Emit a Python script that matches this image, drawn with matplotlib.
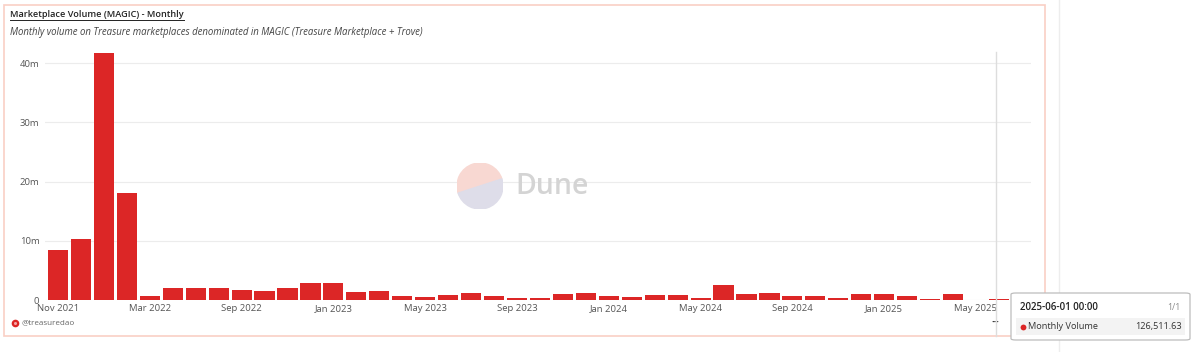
import matplotlib
matplotlib.use("Agg")
import matplotlib.pyplot as plt
from matplotlib.patches import Rectangle, FancyBboxPatch, Wedge
import numpy as np

plt.rcParams['font.family'] = ['Open Sans', 'DejaVu Sans']

months = ["Nov 2021", "Dec 2021", "Jan 2022", "Feb 2022", "Mar 2022", "Jun 2022", "Jul 2022", "Aug 2022",
          "Sep 2022", "Oct 2022", "Nov 2022", "Dec 2022", "Jan 2023", "Feb 2023", "Mar 2023", "Apr 2023",
          "May 2023", "Jun 2023", "Jul 2023", "Aug 2023", "Sep 2023", "Oct 2023", "Nov 2023", "Dec 2023",
          "Jan 2024", "Feb 2024", "Mar 2024", "Apr 2024", "May 2024", "Jun 2024", "Jul 2024", "Aug 2024",
          "Sep 2024", "Oct 2024", "Nov 2024", "Dec 2024", "Jan 2025", "Feb 2025", "Mar 2025", "Apr 2025",
          "May 2025", "Jun 2025"]
volume_m = [8.45, 10.3, 41.8, 18.1, 0.62, 2.0, 1.95, 2.1,
            1.7, 1.5, 2.05, 2.85, 2.9, 1.4, 1.45, 0.7,
            0.45, 0.9, 1.1, 0.6, 0.3, 0.4, 1.0, 1.1,
            0.6, 0.55, 0.8, 0.92, 0.4, 2.6, 0.95, 1.1,
            0.65, 0.65, 0.4, 1.0, 1.05, 0.6, 0.25, 0.95,
            0.03, 0.1265]
yticks_m = [0, 10, 20, 30, 40]
ytick_labels = ["0", "10m", "20m", "30m", "40m"]
tooltip_date = "2025-06-01 00:00"
tooltip_series = "Monthly Volume"
tooltip_value = "126,511.63"

W, H = 1200, 352
fig = plt.figure(figsize=(W / 100, H / 100), dpi=100)
fig.patch.set_facecolor("white")

def fx(px):
    return px / W

def fy(py):
    return 1 - py / H

def dot(px, py, size, color, z=12):
    fig.add_artist(plt.Line2D([fx(px)], [fy(py)], transform=fig.transFigure, marker="o", markersize=size,
                              color=color, markeredgewidth=0, linestyle="none", zorder=z))

# card border
fig.patches.append(Rectangle((fx(3.5), fy(336)), fx(1045) - fx(3.5), fy(5) - fy(336),
                             transform=fig.transFigure, fill=False, edgecolor="#f9cfc5", lw=1.2))
# page divider
fig.add_artist(plt.Line2D([fx(1059), fx(1059)], [0, 1], transform=fig.transFigure, color="#ededed", lw=1))

# axes
ax_left, ax_right, ax_top, ax_bottom = 45, 1031, 52, 300
ax = fig.add_axes([fx(ax_left), fy(ax_bottom), fx(ax_right) - fx(ax_left), fy(ax_top) - fy(ax_bottom)])
x = np.arange(len(months))
spacing = 22.95
ax.bar(x, volume_m, width=0.88, color="#dc2626", zorder=3)
ax.set_xlim(-(58 - ax_left) / spacing, (ax_right - 58) / spacing)
ax.set_ylim(0, (ax_bottom - ax_top) / 5.92)
ax.set_yticks(yticks_m)
ax.set_yticklabels(ytick_labels)
ax.set_xticks(x[::4])
ax.set_xticklabels(months[::4])
ax.tick_params(axis="both", length=0, labelsize=6.8, colors="#555555")
ax.tick_params(axis="y", pad=4)
ax.tick_params(axis="x", pad=3)
for s in ax.spines.values():
    s.set_visible(False)
ax.grid(axis="y", color="#ececec", lw=0.8, zorder=0)
ax.set_facecolor("none")
ax.axhline(0, color="#e8e8e8", lw=0.6, zorder=1)

# hover line
fig.add_artist(plt.Line2D([fx(996), fx(996)], [fy(52), fy(336)], transform=fig.transFigure,
                          color="#dddddd", lw=1, zorder=5))

# watermark
cx, cy, r = 480, 186, 23
wax = fig.add_axes([fx(cx - r), fy(cy + r), fx(2 * r), fy(cy - r) - fy(cy + r)])
wax.set_xlim(-1, 1); wax.set_ylim(-1, 1); wax.axis("off")
wax.add_patch(Wedge((0, 0), 1, 18, 198, color="#f8d8d2"))
wax.add_patch(Wedge((0, 0), 1, 198, 378, color="#dedde9"))
fig.text(fx(515), fy(186), "Dune", fontsize=20.5, color="#d4d4d4", va="center", ha="left", fontweight="semibold")

# titles
t = fig.text(fx(10), fy(17), "Marketplace Volume (MAGIC) - Monthly", fontsize=6.6, color="#222222",
             fontweight="semibold", va="baseline", ha="left")
fig.text(fx(10), fy(34.5), "Monthly volume on Treasure marketplaces denominated in MAGIC (Treasure Marketplace + Trove)",
         fontsize=6.95, color="#444444", style="italic", va="baseline", ha="left")
fig.canvas.draw()
bb = t.get_window_extent()
fig.add_artist(plt.Line2D([bb.x0 / W, bb.x1 / W], [fy(19.5), fy(19.5)], transform=fig.transFigure,
                          color="#222222", lw=0.7))

# footer
dot(15, 322.5, 5.5, "#dc2626")
dot(15, 322.5, 2.2, "#f5a5a5", z=13)
fig.text(fx(22), fy(322.5), "@treasuredao", fontsize=5.8, color="#666666", va="center", ha="left")
fig.text(fx(991), fy(322.5), "···", fontsize=7, color="#333333", va="center", ha="left", fontweight="bold")

# tooltip
tip = FancyBboxPatch((fx(1011), fy(340)), fx(1190) - fx(1011), fy(293) - fy(340),
                     boxstyle="round,pad=0,rounding_size=0.004", transform=fig.transFigure,
                     facecolor="white", edgecolor="#bdbdbd", lw=0.9, zorder=10)
fig.patches.append(tip)
fig.patches.append(Rectangle((fx(1016), fy(335)), fx(1185) - fx(1016), fy(318) - fy(335),
                             transform=fig.transFigure, facecolor="#f3f3f3", edgecolor="none", zorder=11))
fig.text(fx(1020), fy(307), tooltip_date, fontsize=7.0, color="#222222", va="center", ha="left", zorder=12,
         fontweight="semibold")
fig.text(fx(1180), fy(307), "1/1", fontsize=6.3, color="#888888", va="center", ha="right", zorder=12)
dot(1022.5, 326.5, 4.2, "#dc2626")
fig.text(fx(1028), fy(326.5), tooltip_series, fontsize=6.6, color="#333333", va="center", ha="left", zorder=12)
fig.text(fx(1182), fy(326.5), tooltip_value, fontsize=6.6, color="#333333", va="center", ha="right", zorder=12)

fig.savefig("out.png", dpi=100, facecolor="white")
